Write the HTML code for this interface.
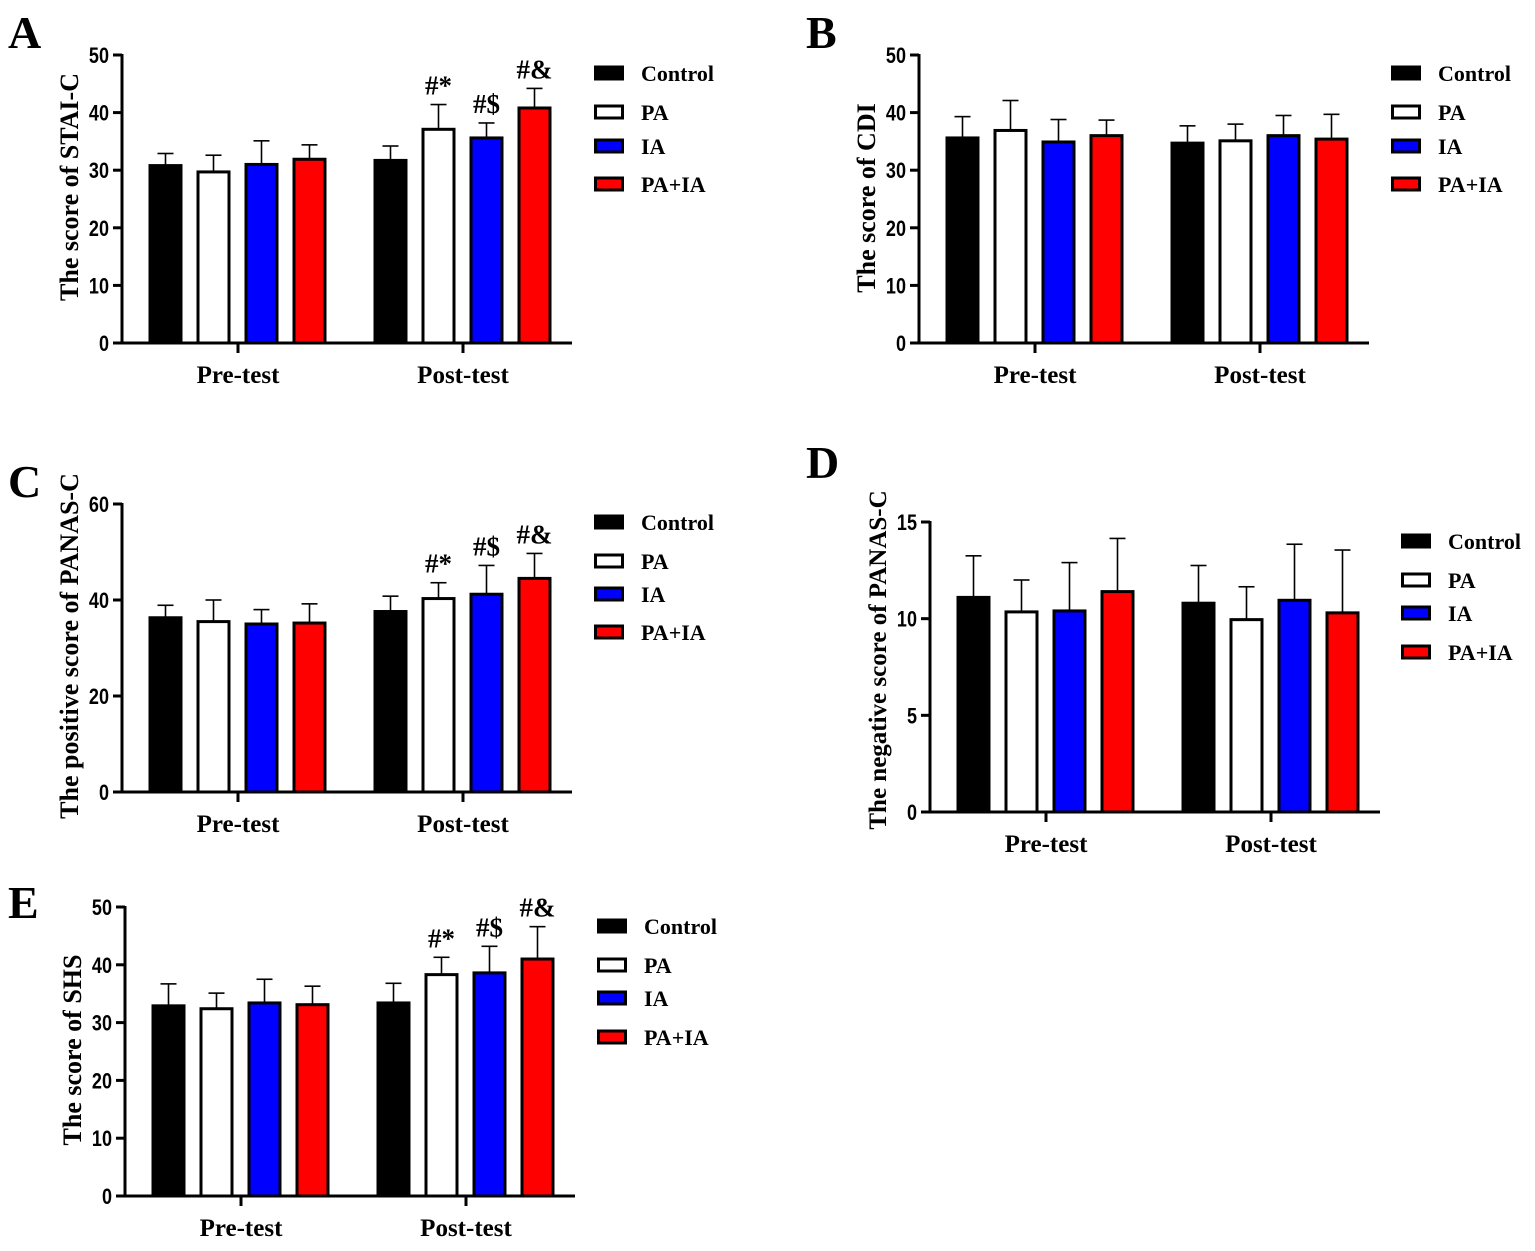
<!DOCTYPE html>
<html><head><meta charset="utf-8"><style>
html,body{margin:0;padding:0;background:#fff;}
svg{display:block;}
</style></head><body>
<svg id="fig" width="1535" height="1251" viewBox="0 0 1535 1251" xmlns="http://www.w3.org/2000/svg"></svg>
<script>
const groups = ["Pre-test","Post-test"];
const seriesNames = ["Control","PA","IA","PA+IA"];
const seriesColors = ["#000000","#ffffff","#0000ff","#ff0000"];
// Panel A: STAI-C
const aMeans = [[30.8,29.7,31.0,31.9],[31.7,37.1,35.6,40.8]];
const aErr = [[2.1,2.9,4.1,2.5],[2.5,4.3,2.6,3.4]];
const aTicks = [0,10,20,30,40,50];
// Panel B: CDI
const bMeans = [[35.6,36.9,34.9,36.0],[34.7,35.1,36.0,35.4]];
const bErr = [[3.7,5.2,3.9,2.7],[3.0,2.9,3.5,4.3]];
const bTicks = [0,10,20,30,40,50];
// Panel C: positive PANAS-C
const cMeans = [[36.3,35.5,35.0,35.2],[37.6,40.3,41.2,44.5]];
const cErr = [[2.6,4.5,3.0,4.0],[3.2,3.3,6.0,5.2]];
const cTicks = [0,20,40,60];
// Panel D: negative PANAS-C
const dMeans = [[11.1,10.35,10.4,11.4],[10.8,9.95,10.95,10.3]];
const dErr = [[2.15,1.65,2.5,2.75],[1.95,1.7,2.9,3.25]];
const dTicks = [0,5,10,15];
// Panel E: SHS
const eMeans = [[32.9,32.4,33.4,33.1],[33.4,38.3,38.6,41.0]];
const eErr = [[3.8,2.7,4.1,3.2],[3.4,3.0,4.6,5.6]];
const eTicks = [0,10,20,30,40,50];
const sigMarks = ["","#*","#$","#&"];

const NS="http://www.w3.org/2000/svg";
const svg=document.getElementById('fig');
function mk(tag,attrs,parent,text){const e=document.createElementNS(NS,tag);for(const k in attrs)e.setAttribute(k,attrs[k]);if(text!==undefined)e.textContent=text;(parent||svg).appendChild(e);return e;}

function panel(p){
  const g=mk('g',{});
  
  
  const ymax=p.ticks[p.ticks.length-1];
  const y=v=>p.yBot-(v/ymax)*(p.yBot-p.yTop);
  const L=mk('text',{x:p.lx,y:p.ly,'font-family':'Liberation Serif,serif','font-weight':'bold','font-size':46},g,p.letter);
  
  
  const ax=mk('line',{x1:p.ax,y1:p.yTop-1,x2:p.ax,y2:p.yBot+1.5,stroke:'#000','stroke-width':3},g);
  
  
  const xa=mk('line',{x1:p.ax-1.5,y1:p.yBot,x2:p.ax+450,y2:p.yBot,stroke:'#000','stroke-width':3},g);
  
  
  p.ticks.forEach(t=>{
    mk('line',{x1:p.ax-9,y1:y(t),x2:p.ax,y2:y(t),stroke:'#000','stroke-width':3},g);
    const tl=mk('text',{x:p.ax-13,y:y(t)+8,'text-anchor':'end','font-family':'Liberation Sans,sans-serif','font-weight':'bold','font-size':22,transform:`translate(${p.ax-13},0) scale(0.82,1) translate(${-(p.ax-13)},0)`},g,String(t));
    
    
  });
  const yt=mk('text',{x:0,y:0,'text-anchor':'middle','font-family':'Liberation Serif,serif','font-weight':'bold','font-size':p.tfs||26,transform:`translate(${p.tx},${p.tcy}) rotate(-90)`},g,p.title);
  
  
  groups.forEach((gn,gi)=>{
    const x0=p.ax+(gi===0?28:253);
    const cx=x0+88;
    mk('line',{x1:cx,y1:p.yBot,x2:cx,y2:p.yBot+10,stroke:'#000','stroke-width':3},g);
    const cl=mk('text',{x:cx,y:p.yBot+40,'text-anchor':'middle','font-family':'Liberation Serif,serif','font-weight':'bold','font-size':25},g,gn);
    
    
    seriesNames.forEach((sn,si)=>{
      const m=p.means[gi][si], e=p.err[gi][si];
      const bx=x0+si*48, bw=31, cxb=bx+bw/2;
      mk('line',{x1:cxb,y1:y(m),x2:cxb,y2:y(m+e),stroke:'#000','stroke-width':1.6},g);
      mk('line',{x1:cxb-8,y1:y(m+e),x2:cxb+8,y2:y(m+e),stroke:'#000','stroke-width':1.6},g);
      const r=mk('rect',{x:bx,y:y(m),width:bw,height:p.yBot-y(m),fill:seriesColors[si],stroke:'#000','stroke-width':3},g);
      
      
      if(p.sig && gi===1 && sigMarks[si]){
        const s=mk('text',{x:cxb,y:y(m+e)-10,'text-anchor':'middle','font-family':'Liberation Serif,serif','font-weight':'bold','font-size':27},g,sigMarks[si]);
        
        
      }
    });
  });
  seriesNames.forEach((sn,si)=>{
    const ly=p.legY[si];
    const sw=mk('rect',{x:p.legX+1.5,y:ly-6,width:27,height:12,fill:seriesColors[si],stroke:'#000','stroke-width':3},g);
    
    
    const lt=mk('text',{x:p.legX+47,y:ly+8,'font-family':'Liberation Serif,serif','font-weight':'bold','font-size':22},g,sn);
    
    
  });
}

panel({letter:'A',lx:8,ly:48,ax:122,yTop:55,yBot:343,ticks:aTicks,means:aMeans,err:aErr,title:'The score of STAI-C',tx:78,tcy:187,legX:594,legY:[73,112,146,184],sig:true});
panel({letter:'B',lx:806,ly:48,ax:919,yTop:55,yBot:343,ticks:bTicks,means:bMeans,err:bErr,title:'The score of CDI',tx:875,tcy:198,legX:1391,legY:[73,112,146,184],sig:false});
panel({letter:'C',lx:8,ly:497,ax:122,yTop:504,yBot:792,ticks:cTicks,means:cMeans,err:cErr,title:'The positive score of PANAS-C',tx:78,tcy:646,legX:594,legY:[522,561,594,632],sig:true});
panel({letter:'D',lx:806,ly:478,ax:930,yTop:522,yBot:812,ticks:dTicks,means:dMeans,err:dErr,title:'The negative score of PANAS-C',tx:886,tcy:660,tfs:25,legX:1401,legY:[541,580,613,652],sig:false});
panel({letter:'E',lx:8,ly:918,ax:125,yTop:907,yBot:1196,ticks:eTicks,means:eMeans,err:eErr,title:'The score of SHS',tx:81,tcy:1050,legX:597,legY:[926,965,998,1037],sig:true});
</script>
</body></html>
